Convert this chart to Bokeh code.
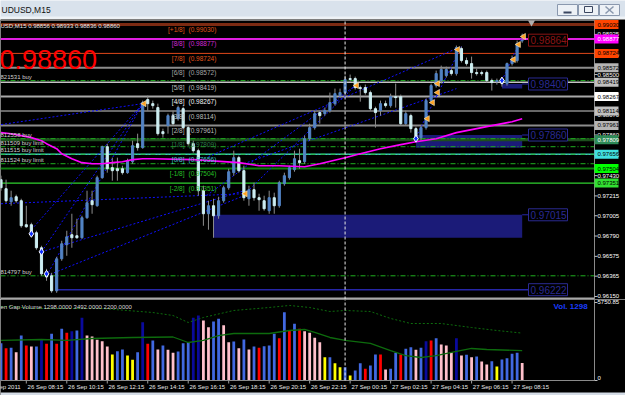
import math
from bokeh.plotting import figure
from bokeh.layouts import column
from bokeh.models import Range1d
from bokeh.core.properties import value
from bokeh.embed import file_html
from bokeh.resources import INLINE

# ---------------- data ----------------
window_title = "UDUSD,M15"
symbol_label = "USD,M15"

opens = [0.97387, 0.97291, 0.97153, 0.97206, 0.97164, 0.96910, 0.96910, 0.96825, 0.96666, 0.96390,
         0.96369, 0.96210, 0.96549, 0.96698, 0.96804, 0.96793, 0.96772, 0.96984, 0.97164, 0.97111,
         0.97408, 0.97736, 0.97514, 0.97503, 0.97503, 0.97461, 0.97577, 0.97768, 0.97726, 0.98235,
         0.98192, 0.98150, 0.97895, 0.97959, 0.98065, 0.98033, 0.98139, 0.97938, 0.97768, 0.97694,
         0.97270, 0.97026, 0.97111, 0.97005, 0.97164, 0.97302, 0.97461, 0.97620, 0.97482, 0.97185,
         0.97281, 0.97196, 0.97164, 0.97058, 0.97196, 0.97111, 0.97344, 0.97408, 0.97493, 0.97588,
         0.97577, 0.97821, 0.97938, 0.98097, 0.98086, 0.98118, 0.98192, 0.98277, 0.98309, 0.98457,
         0.98457, 0.98362, 0.98362, 0.98309, 0.98139, 0.98118, 0.98192, 0.98171, 0.98266, 0.98266,
         0.97980, 0.98065, 0.97927, 0.97832, 0.97938, 0.98224, 0.98383, 0.98436, 0.98489, 0.98542,
         0.98510, 0.98775, 0.98648, 0.98616, 0.98521, 0.98521, 0.98521, 0.98436, 0.98425, 0.98436,
         0.98404, 0.98616, 0.98648, 0.98856]
highs = [0.97429, 0.97387, 0.97270, 0.97228, 0.97185, 0.97111, 0.96931, 0.96846, 0.96687, 0.96443,
         0.96401, 0.96570, 0.96740, 0.96846, 0.97026, 0.96973, 0.97005, 0.97270, 0.97270, 0.97429,
         0.97747, 0.97768, 0.97620, 0.97620, 0.97535, 0.97609, 0.97800, 0.97874, 0.98224, 0.98277,
         0.98224, 0.98192, 0.97927, 0.98086, 0.98118, 0.98171, 0.98160, 0.97959, 0.97800, 0.97715,
         0.97323, 0.97164, 0.97185, 0.97206, 0.97323, 0.97503, 0.97694, 0.97641, 0.97535, 0.97323,
         0.97355, 0.97238, 0.97217, 0.97270, 0.97249, 0.97376, 0.97461, 0.97535, 0.97694, 0.97715,
         0.97853, 0.97980, 0.98118, 0.98118, 0.98150, 0.98309, 0.98351, 0.98351, 0.98489, 0.98500,
         0.98478, 0.98383, 0.98394, 0.98330, 0.98160, 0.98224, 0.98224, 0.98298, 0.98404, 0.98288,
         0.98118, 0.98086, 0.97948, 0.97959, 0.98245, 0.98404, 0.98542, 0.98595, 0.98584, 0.98563,
         0.98807, 0.98796, 0.98680, 0.98690, 0.98563, 0.98542, 0.98542, 0.98457, 0.98457, 0.98468,
         0.98627, 0.98701, 0.98860, 0.98933]
lows = [0.97270, 0.97143, 0.97111, 0.97143, 0.96878, 0.96878, 0.96804, 0.96645, 0.96369, 0.96316,
        0.96189, 0.96189, 0.96528, 0.96581, 0.96666, 0.96761, 0.96761, 0.96973, 0.97026, 0.97100,
        0.97397, 0.97461, 0.97376, 0.97376, 0.97440, 0.97450, 0.97556, 0.97694, 0.97715, 0.98118,
        0.98139, 0.97853, 0.97832, 0.97874, 0.97959, 0.98012, 0.97927, 0.97747, 0.97673, 0.97217,
        0.96899, 0.96857, 0.96772, 0.96973, 0.97143, 0.97281, 0.97429, 0.97461, 0.97164, 0.97111,
        0.97164, 0.97058, 0.97058, 0.97026, 0.97026, 0.97090, 0.97323, 0.97387, 0.97471, 0.97503,
        0.97556, 0.97800, 0.97917, 0.97980, 0.98065, 0.98097, 0.98171, 0.98256, 0.98288, 0.98425,
        0.98341, 0.98213, 0.98288, 0.98118, 0.97938, 0.98065, 0.98150, 0.98150, 0.98150, 0.97959,
        0.97959, 0.97885, 0.97800, 0.97800, 0.97917, 0.98203, 0.98362, 0.98404, 0.98468, 0.98489,
        0.98489, 0.98627, 0.98595, 0.98457, 0.98489, 0.98489, 0.98415, 0.98330, 0.98394, 0.98372,
        0.98383, 0.98595, 0.98627, 0.98836]
closes = [0.97302, 0.97164, 0.97196, 0.97164, 0.96899, 0.96888, 0.96825, 0.96666, 0.96390, 0.96358,
          0.96210, 0.96549, 0.96708, 0.96782, 0.96772, 0.96772, 0.96984, 0.97143, 0.97122, 0.97408,
          0.97736, 0.97503, 0.97482, 0.97482, 0.97461, 0.97588, 0.97747, 0.97726, 0.98203, 0.98192,
          0.98171, 0.97874, 0.97874, 0.98065, 0.97980, 0.98150, 0.97938, 0.97768, 0.97694, 0.97270,
          0.97026, 0.97111, 0.97005, 0.97164, 0.97302, 0.97471, 0.97620, 0.97482, 0.97196, 0.97281,
          0.97196, 0.97175, 0.97079, 0.97196, 0.97111, 0.97355, 0.97429, 0.97514, 0.97609, 0.97567,
          0.97821, 0.97938, 0.98086, 0.98065, 0.98118, 0.98203, 0.98298, 0.98309, 0.98447, 0.98447,
          0.98362, 0.98351, 0.98309, 0.98139, 0.98097, 0.98192, 0.98171, 0.98266, 0.98256, 0.97980,
          0.98086, 0.97927, 0.97842, 0.97938, 0.98224, 0.98383, 0.98510, 0.98553, 0.98553, 0.98510,
          0.98786, 0.98648, 0.98616, 0.98521, 0.98510, 0.98510, 0.98436, 0.98415, 0.98436, 0.98404,
          0.98616, 0.98665, 0.98828, 0.98860]

volumes = [2750, 2380, 2410, 2090, 3320, 2580, 2505, 2505, 3000, 2700,
           3440, 2700, 3810, 3510, 3635, 3685, 4620, 3320, 3245, 3000,
           2900, 2505, 1915, 2160, 2285, 1840, 1525, 2090, 4300, 2700,
           2950, 2285, 2580, 2260, 2040, 2140, 2750, 2825, 4620, 4790,
           4420, 3930, 4350, 4545, 4080, 2825, 2875, 2380, 3020, 2285,
           2505, 2410, 2530, 2580, 3440, 3120, 5035, 3685, 4175, 3810,
           3635, 3510, 3145, 2825, 1720, 1720, 1275, 980, 980, 370,
           737, 1275, 860, 1105, 1915, 1915, 810, 860, 2040, 1915,
           2335, 2455, 2260, 2410, 2900, 2950, 3120, 2655, 2580, 2090,
           3120, 1840, 1890, 1720, 1770, 1400, 1180, 1420, 1030, 1550,
           1645, 1965, 2040, 1298]
# U=up, D=down, C=climax, H=high churn, L=low volume
volume_kind = list("UCUDUCDUHC" "UCUCHUHDDD" "DDLUULLUHC" "UDUDDUUUHH" "DDUUDDUDUD"
                   "UCUUUCUCUC" "DDDDLULLUL" "UUCUUCDUUC" "UUDUHCUDDD" "HDUDUDDULU" "UUUD")

ma_idx = [0, 2, 4, 6, 8, 9, 11, 12, 14, 16, 18, 20, 22, 24, 26, 28, 30, 38, 47, 51, 55, 60, 63,
          68, 71, 75, 79, 82, 86, 90, 93, 97, 101, 103]
ma_price = [0.97885, 0.97874, 0.97853, 0.97832, 0.97800, 0.97768, 0.97715, 0.97662, 0.97609, 0.97567,
            0.97556, 0.97556, 0.97567, 0.97577, 0.97599, 0.97609, 0.97609, 0.97599, 0.97567, 0.97535,
            0.97535, 0.97524, 0.97556, 0.97620, 0.97662, 0.97715, 0.97758, 0.97789, 0.97821, 0.97885,
            0.97917, 0.97959, 0.98001, 0.98033]

vol_ma_idx = [0, 8, 13, 18, 26, 34, 37, 40, 43, 46, 53, 57, 60, 62, 65, 68, 73, 77, 80, 83, 86, 90, 93, 96, 103]
vol_ma = [2950, 3020, 2950, 3095, 3170, 3205, 2800, 2950, 3315, 3465, 3465, 3685, 3760, 3540, 3170,
          2950, 2730, 2210, 1840, 1695, 1840, 2140, 2360, 2285, 2200]
vol_band_idx = [0, 2, 6, 20, 30, 34, 37, 40, 46, 53, 57, 61, 65, 68, 73, 77, 81, 87, 93, 98, 103]
vol_band = [5450, 5455, 5305, 5305, 5010, 4790, 4275, 4645, 5160, 5380, 5530, 5380, 5085, 5160,
            5085, 4570, 4200, 4200, 3905, 3685, 3492]
vol_scale_max = 5750.85

level_names = ["[+1/8]", "[8/8]", "[7/8]", "[6/8]", "[5/8]", "[4/8]", "[3/8]", "[2/8]",
               "[1/8]", "[0/8]", "[-1/8]", "[-2/8]"]
level_prices = [0.99030, 0.98877, 0.98724, 0.98572, 0.98419, 0.98267, 0.98114, 0.97961,
                0.97809, 0.97656, 0.97504, 0.97351]

order_labels = ["821531 buy", "812558 buy", "811509 buy limit", "811515 buy limit",
                "811524 buy limit", "814797 buy"]
order_prices = [0.98436, 0.97821, 0.97736, 0.97657, 0.97556, 0.96369]

zone_left = [42, 82, 99]
zone_right = [103, 103, 103]
zone_top = [0.97015, 0.97860, 0.98400]
zone_bottom = [0.96772, 0.97726, 0.98351]
support_start = 11
support_price = 0.96222

target_labels = ["0.98864", "0.98400", "0.97860", "0.97015", "0.96222"]
target_prices = [0.98864, 0.98400, 0.97860, 0.97015, 0.96222]

trend_x0 = [0, 6, 8, 9, 0, 8, 9, 41, 48, 40, 48, 82, 99]
trend_p0 = [0.97970, 0.96857, 0.96623, 0.96369, 0.97132, 0.96623, 0.96369, 0.97630, 0.97556,
            0.97193, 0.97226, 0.97837, 0.98436]
trend_x1 = [28, 28, 28, 28, 48, 48, 48, 90, 90, 70, 70, 91, 103]
trend_p1 = [0.98192, 0.98192, 0.98192, 0.98192, 0.97238, 0.97270, 0.97217, 0.98775, 0.98351,
            0.98382, 0.98382, 0.98797, 0.98900]

arrow_idx = [28, 48, 70, 84, 85, 86, 86, 90, 101, 102, 103]
arrow_price = [0.98192, 0.97238, 0.98383, 0.98033, 0.98203, 0.98309, 0.98404, 0.98765, 0.98659,
               0.98818, 0.98903]
dot_idx = [6, 8, 9, 82, 99]
dot_price = [0.96814, 0.96623, 0.96390, 0.97821, 0.98436]

price_ticks = [0.98925, 0.98710, 0.98500, 0.98285, 0.98070, 0.97860, 0.97645, 0.97430, 0.97215,
               0.97005, 0.96790, 0.96575, 0.96365, 0.96150]

time_tick_idx = [-3, 5, 13, 21, 29, 37, 45, 53, 61, 69, 77, 85, 93, 101]
time_tick_labels = ["26 Sep 2011", "26 Sep 08:15", "26 Sep 10:15", "26 Sep 12:15", "26 Sep 14:15",
                    "26 Sep 16:15", "26 Sep 18:15", "26 Sep 20:15", "26 Sep 22:15", "27 Sep 00:15",
                    "27 Sep 02:15", "27 Sep 04:15", "27 Sep 06:15", "27 Sep 08:15"]
day_separator_idx = 68

# ---------------- layout helpers ----------------
W = 625
PX_PER_BAR = 5.06
X0 = -0.1
X1 = X0 + W / PX_PER_BAR


def bx(px):
    return X0 + px / PX_PER_BAR


AXIS_X = bx(594)
BOX_R = bx(618)
LBL_X = bx(597)
TICK_LEN = 3 / PX_PER_BAR
PPX = 9444.0


def pc(cy):
    return 0.99030 - (cy - 24) / PPX


VPX = 73.7


def vy(cy):
    return (380 - cy) * VPX


FONT = value("Liberation Sans")


def base_fig(h, xr, yr, bg):
    f = figure(width=W, height=h, x_range=xr, y_range=yr, toolbar_location=None,
               output_backend="svg", x_axis_location=None, y_axis_location=None,
               min_border=0, outline_line_color=None, background_fill_color=bg,
               border_fill_color=bg)
    f.xgrid.grid_line_color = None
    f.ygrid.grid_line_color = None
    return f


n = len(opens)
idx = list(range(n))

# ---------------- title bar ----------------
tb = base_fig(19, Range1d(0, W), Range1d(19, 0), "#d9e2ec")
tb.quad(left=[0], right=[W], top=[16], bottom=[19], fill_color="#eef2f6", line_color=None)
tb.text(x=[1], y=[9.5], text=[window_title], text_font=FONT, text_font_size="8.5px",
        text_baseline="middle", text_color="#101010")
btn_l = [557, 578, 599]
tb.quad(left=btn_l, right=[b + 20 for b in btn_l], top=[4] * 3, bottom=[15] * 3,
        fill_color="#edf1f6", line_color="#8a98ae")
tb.segment(x0=[563], y0=[12], x1=[571], y1=[12], line_color="#3a4660", line_width=2)
tb.quad(left=[584], right=[592], top=[6], bottom=[12], fill_color=None, line_color="#3a4660")
tb.segment(x0=[605, 605], y0=[6, 13], x1=[613, 613], y1=[13, 6], line_color="#8a98ae", line_width=1.5)

# ---------------- price chart ----------------
p = base_fig(280, Range1d(X0, X1), Range1d(pc(299), pc(19)), "#000000")

# zones
p.quad(left=zone_left, right=zone_right, top=zone_top, bottom=zone_bottom,
       fill_color="#1b1b78", line_color=None)
p.segment(x0=[support_start], y0=[support_price], x1=[bx(528)], y1=[support_price],
          line_color="#2626a8", line_width=1.5)
p.segment(x0=[zone_right[i] for i in range(3)], y0=zone_top, x1=[bx(528)] * 3, y1=zone_top,
          line_color="#2626a8", line_width=1)

# Murrey levels
level_line_colors = ["#7c2a12", "#e01ee0", "#e0481a", "#8c8c8c", "#c4c4c4", "#a8a8a8", "#cfcfcf",
                     "#8c8c8c", "#1d4f1d", "#3cc4c4", "#0f7f0f", "#2fd22f"]
level_line_widths = [3, 2, 1, 2, 1.5, 2, 1, 2, 3, 1.5, 2, 1.2]
level_text_colors = ["#e2561c", "#d428d4", "#e2561c", "#a4a4a4", "#bcbcbc", "#f2f2f2", "#bcbcbc",
                     "#bcbcbc", "#2e7d4a", "#3cc4c4", "#26c026", "#26c026"]
box_fill = ["#ff4500", "#ff00ff", "#ff4500", "#b4b4b4", "#c0c0c0", "#ffffff", "#c0c0c0", "#b4b4b4",
            "#2e8b57", "#40e0e0", "#00ff00", "#32e032"]
box_text = ["#000000", "#ffffff", "#000000", "#000000", "#000000", "#000000", "#000000", "#000000",
            "#ffffff", "#000000", "#000000", "#000000"]
nl = len(level_prices)
p.segment(x0=[X0] * nl, y0=level_prices, x1=[AXIS_X] * nl, y1=level_prices,
          line_color=level_line_colors, line_width=level_line_widths)

# pending orders
no = len(order_prices)
p.segment(x0=[X0] * no, y0=order_prices, x1=[AXIS_X] * no, y1=order_prices,
          line_color="#1fb01f", line_width=1, line_dash="5 2 1 2")

# frame lines
p.segment(x0=[X0, X0], y0=[pc(20), pc(298)], x1=[AXIS_X, AXIS_X], y1=[pc(20), pc(298)],
          line_color=["#767676", "#a8a8a8"], line_width=[1, 2])

# trend lines
p.segment(x0=trend_x0, y0=trend_p0, x1=trend_x1, y1=trend_p1,
          line_color="#1010ff", line_width=1, line_dash="2 2")

# candles
bull = [c >= o for o, c in zip(opens, closes)]
body_col = ["#5283c4" if b else "#cdeef2" for b in bull]
p.segment(x0=idx, y0=lows, x1=idx, y1=highs, line_color="#8c8c8c", line_width=1)
p.vbar(x=idx, width=0.42, top=[max(o, c) for o, c in zip(opens, closes)],
       bottom=[min(o, c) for o, c in zip(opens, closes)],
       fill_color=body_col, line_color=body_col, line_width=1)

# moving average
p.line(ma_idx, ma_price, line_color="#ff00ff", line_width=1.6)

# markers
p.scatter([a + 0.3 for a in arrow_idx], arrow_price, marker="triangle", angle=math.pi / 2,
          size=6, fill_color="#ffa020", line_color="#fff0c0", line_width=0.6)
p.scatter(dot_idx, dot_price, marker="diamond", size=7, fill_color="#1030ff",
          line_color="#ffffff", line_width=1)
p.scatter([bx(531)], [pc(22)], marker="inverted_triangle", size=7, fill_color="#b0b0b0",
          line_color=None)

# day separator
p.segment(x0=[day_separator_idx], y0=[pc(299)], x1=[day_separator_idx], y1=[pc(19)],
          line_color="#e8e8e8", line_width=1, line_dash="3 2")

# level labels
p.text(x=[bx(184)] * nl, y=level_prices, text=level_names, text_font=FONT,
       text_font_size="6.5px", text_color=level_text_colors, text_align="right",
       text_baseline="middle", y_offset=5)
p.text(x=[bx(188)] * nl, y=level_prices, text=["(%.5f)" % v for v in level_prices],
       text_font=FONT, text_font_size="6.5px", text_color=level_text_colors,
       text_align="left", text_baseline="middle", y_offset=5)

# order labels
p.text(x=[bx(0)] * no, y=order_prices, text=order_labels, text_font=FONT, text_font_size="6px",
       text_color="#cfcfcf", text_align="left", text_baseline="middle", y_offset=-4)

# header & big price
p.text(x=[bx(0)], y=[pc(25)],
       text=["%s  %.5f %.5f %.5f %.5f" % (symbol_label, opens[-1], highs[-1], lows[-1], closes[-1])],
       text_font=FONT, text_font_size="6px", text_color="#e8e8e8", text_baseline="middle")
p.text(x=[bx(-1)], y=[pc(59)], text=["%.5f" % closes[-1]], text_font=FONT,
       text_font_size="27px", text_color="#ff0000", text_baseline="alphabetic")

# target labels
tcol = ["#8b1414"] + ["#2a2a92"] * (len(target_prices) - 1)
half = 6 / PPX
p.quad(left=[bx(528)] * len(target_prices), right=[bx(567)] * len(target_prices),
       top=[t + half for t in target_prices], bottom=[t - half for t in target_prices],
       fill_color="#000000", line_color=tcol, line_width=1)
p.text(x=[bx(530)] * len(target_prices), y=target_prices, text=target_labels, text_font=FONT,
       text_font_size="10px", text_color=tcol, text_baseline="middle")

# price axis
p.segment(x0=[AXIS_X], y0=[pc(299)], x1=[AXIS_X], y1=[pc(19)], line_color="#8a8a8a")
nt = len(price_ticks)
p.segment(x0=[AXIS_X] * nt, y0=price_ticks, x1=[AXIS_X + TICK_LEN] * nt, y1=price_ticks,
          line_color="#c0c0c0")
p.text(x=[LBL_X] * nt, y=price_ticks, text=["%.5f" % v for v in price_ticks], text_font=FONT,
       text_font_size="6px", text_color="#ffffff", text_baseline="middle")
bh = 4.5 / PPX
p.quad(left=[AXIS_X] * nl, right=[BOX_R] * nl, top=[v + bh for v in level_prices],
       bottom=[v - bh for v in level_prices], fill_color=box_fill, line_color=None)
p.text(x=[LBL_X] * nl, y=level_prices, text=["%.5f" % v for v in level_prices], text_font=FONT,
       text_font_size="6px", text_color=box_text, text_baseline="middle")

# ---------------- volume panel ----------------
v = base_fig(96, p.x_range, Range1d(vy(395), vy(299)), "#000000")
vol_colors = {"U": "#4169e1", "D": "#ffc0cb", "C": "#ff0000", "H": "#0a0a9c", "L": "#ffff00"}
v.vbar(x=idx, top=volumes, bottom=0, width=0.55,
       fill_color=[vol_colors[k] for k in volume_kind], line_color=None)
v.line(vol_band_idx, vol_band, line_color="#0d6b0d", line_width=1, line_dash="2 2")
v.line(vol_ma_idx, vol_ma, line_color="#0d6b0d", line_width=1.3)
v.segment(x0=[X0, AXIS_X], y0=[0, 0], x1=[AXIS_X, AXIS_X], y1=[0, vy(299)], line_color="#8a8a8a")
v.segment(x0=[day_separator_idx], y0=[0], x1=[day_separator_idx], y1=[vy(299)],
          line_color="#e8e8e8", line_width=1, line_dash="3 2")
v.segment(x0=[AXIS_X] * 2, y0=[vol_scale_max, 0], x1=[AXIS_X + TICK_LEN] * 2, y1=[vol_scale_max, 0],
          line_color="#c0c0c0")
v.text(x=[LBL_X] * 2, y=[vol_scale_max, 0], text=["%.2f" % vol_scale_max, "0"], text_font=FONT,
       text_font_size="6px", text_color="#ffffff", text_baseline="middle", y_offset=[0, -3])
v.text(x=[bx(0)], y=[vy(306)],
       text=["en Gap Volume %.4f %.4f %.4f" % (volumes[-1], vol_band[-1], vol_ma[-1])],
       text_font=FONT, text_font_size="6px", text_color="#d8d8d8", text_baseline="middle")
v.text(x=[bx(553)], y=[vy(306)], text=["Vol.  %d" % volumes[-1]], text_font=FONT,
       text_font_size="8px", text_font_style="bold", text_color="#1a3cff", text_baseline="middle")
ntt = len(time_tick_idx)
v.segment(x0=time_tick_idx, y0=[0] * ntt, x1=time_tick_idx, y1=[vy(383)] * ntt, line_color="#a0a0a0")
v.text(x=[t + 0.25 for t in time_tick_idx], y=[vy(386.5)] * ntt, text=time_tick_labels,
       text_font=FONT, text_font_size="6px", text_color="#e8e8e8", text_baseline="middle")
v.quad(left=[X0], right=[X1], top=[vy(392)], bottom=[vy(395)], fill_color="#d4dce6", line_color=None)

layout = column(tb, p, v, spacing=0)
open("out.html", "w").write(file_html(layout, INLINE))
